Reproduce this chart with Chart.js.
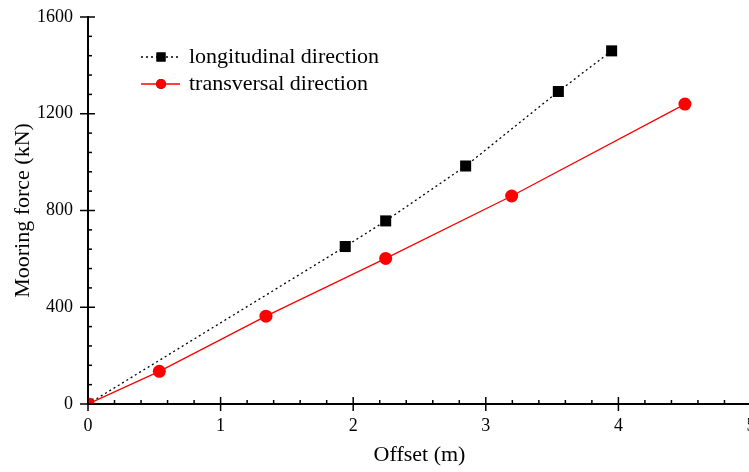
<!DOCTYPE html>
<html>
<head>
<meta charset="utf-8">
<script src="https://cdn.jsdelivr.net/npm/chart.js@4"></script>
<style>
    html, body { margin: 0; padding: 0; background: #fff; overflow: hidden; }
    #wrap { width: 749px; height: 472px; overflow: hidden; }
</style>
</head>
<body>
<div id="wrap"><canvas id="chart" width="770" height="472"></canvas></div>
<script>
// offsets (m) and mooring forces (kN)
const longOffset = [0, 1.94, 2.245, 2.848, 3.547, 3.949];
const longForce = [0, 651, 757, 984, 1292, 1460];
const transOffset = [0, 0.538, 1.342, 2.245, 3.195, 4.502];
const transForce = [0, 135, 363, 602, 860, 1240];
const seriesNames = ['longitudinal direction', 'transversal direction'];

const serif = "'Liberation Serif', 'Times New Roman', serif";

function toPoints(xs, ys) {
    return xs.map(function(x, i) { return { x: x, y: ys[i] }; });
}

// tick marks: majors cross the axis, minors point inward
const tickMarks = {
    id: 'tickMarks',
    afterDraw: function(chart) {
        const ctx = chart.ctx;
        const xs = chart.scales.x;
        const ys = chart.scales.y;
        const area = chart.chartArea;
        ctx.save();
        ctx.strokeStyle = '#000';
        ctx.lineWidth = 1.5;
        xs.ticks.forEach(function(t) {
            const px = xs.getPixelForValue(t.value);
            const major = Math.abs(t.value - Math.round(t.value)) < 1e-6;
            ctx.beginPath();
            ctx.moveTo(px, area.bottom + (major ? 7 : 0));
            ctx.lineTo(px, area.bottom - (major ? 7 : 4));
            ctx.stroke();
        });
        ys.ticks.forEach(function(t) {
            const py = ys.getPixelForValue(t.value);
            const major = t.value % 400 === 0;
            ctx.beginPath();
            ctx.moveTo(area.left - (major ? 8 : 0), py);
            ctx.lineTo(area.left + (major ? 7 : 4), py);
            ctx.stroke();
        });
        ctx.restore();
    }
};

// legend drawn inside the plot, upper left
const innerLegend = {
    id: 'innerLegend',
    afterDraw: function(chart) {
        const ctx = chart.ctx;
        const rows = [
            { y: 57, color: '#000', dash: [2, 3], style: 'rect', r: 6.4 },
            { y: 84, color: '#ff0000', dash: [], style: 'circle', r: 5 }
        ];
        ctx.save();
        rows.forEach(function(row, i) {
            ctx.strokeStyle = row.color;
            ctx.lineWidth = 1.3;
            ctx.setLineDash(row.dash);
            ctx.beginPath();
            ctx.moveTo(141, row.y);
            ctx.lineTo(180, row.y);
            ctx.stroke();
            ctx.setLineDash([]);
            Chart.helpers.drawPoint(ctx, {
                pointStyle: row.style, radius: row.r, borderWidth: 0, rotation: 0
            }, 161, row.y);
            ctx.fillStyle = row.color;
            ctx.fill();
            ctx.fillStyle = '#000';
            ctx.font = '22px ' + serif;
            ctx.textBaseline = 'alphabetic';
            ctx.textAlign = 'left';
            ctx.fillText(seriesNames[i], 189, row.y + 5.5);
        });
        ctx.restore();
    }
};

const ctx = document.getElementById('chart').getContext('2d');
new Chart(ctx, {
    type: 'scatter',
    data: {
        datasets: [{
            label: seriesNames[0],
            data: toPoints(longOffset, longForce),
            showLine: true,
            borderColor: '#000',
            borderWidth: 1.3,
            borderDash: [2, 3],
            pointStyle: 'rect',
            pointRadius: 7.8,
            pointBackgroundColor: '#000',
            pointBorderWidth: 0,
            clip: 0,
            order: 1
        }, {
            label: seriesNames[1],
            data: toPoints(transOffset, transForce),
            showLine: true,
            borderColor: '#ff0000',
            borderWidth: 1.3,
            pointStyle: 'circle',
            pointRadius: 6.5,
            pointBackgroundColor: '#ff0000',
            pointBorderWidth: 0,
            clip: 0,
            order: 0
        }]
    },
    options: {
        responsive: false,
        animation: false,
        layout: { padding: { left: 0, top: 17, right: 19, bottom: 0 } },
        plugins: {
            legend: { display: false },
            tooltip: { enabled: false }
        },
        scales: {
            x: {
                type: 'linear',
                min: 0,
                max: 5,
                afterFit: function(scale) {
                    scale.height = 68;
                    scale.paddingLeft = 0;
                    scale.paddingRight = 0;
                },
                afterBuildTicks: function(scale) {
                    const t = [];
                    for (let i = 0; i <= 25; i++) t.push({ value: i / 5 });
                    scale.ticks = t;
                },
                grid: { display: true, drawOnChartArea: false, drawTicks: false },
                border: { display: true, color: '#000', width: 2 },
                ticks: {
                    autoSkip: false,
                    maxRotation: 0,
                    padding: 11,
                    color: '#000',
                    font: { family: serif, size: 18 },
                    callback: function(v) {
                        return Math.abs(v - Math.round(v)) < 1e-6 ? String(Math.round(v)) : '';
                    }
                },
                title: {
                    display: true,
                    text: 'Offset (m)',
                    color: '#000',
                    font: { family: serif, size: 22 },
                    padding: { top: 0, bottom: 4 }
                }
            },
            y: {
                type: 'linear',
                min: 0,
                max: 1600,
                afterFit: function(scale) {
                    scale.width = 88;
                    scale.paddingTop = 0;
                    scale.paddingBottom = 0;
                },
                afterBuildTicks: function(scale) {
                    const t = [];
                    for (let i = 0; i <= 20; i++) t.push({ value: i * 80 });
                    scale.ticks = t;
                },
                grid: { display: true, drawOnChartArea: false, drawTicks: false },
                border: { display: true, color: '#000', width: 2 },
                ticks: {
                    autoSkip: false,
                    padding: 15,
                    color: '#000',
                    font: { family: serif, size: 18 },
                    callback: function(v) { return v % 400 === 0 ? String(v) : ''; }
                },
                title: {
                    display: true,
                    text: 'Mooring force (kN)',
                    color: '#000',
                    font: { family: serif, size: 22 },
                    padding: { top: 10, bottom: 0 }
                }
            }
        }
    },
    plugins: [tickMarks, innerLegend]
});
</script>
</body>
</html>
